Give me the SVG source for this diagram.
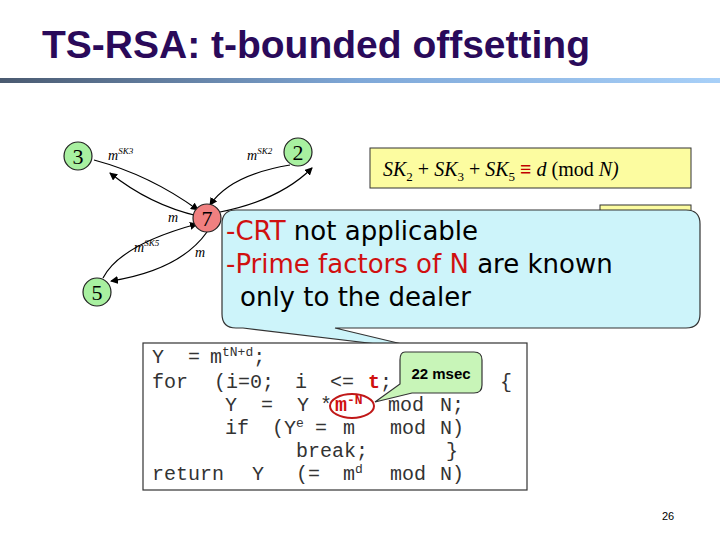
<svg xmlns="http://www.w3.org/2000/svg" width="720" height="540" viewBox="0 0 720 540">
<defs>
<linearGradient id="bar" x1="0" x2="1"><stop offset="0" stop-color="#4a5a70"/><stop offset="0.5" stop-color="#7fa8d8"/><stop offset="1" stop-color="#a8d0f8"/></linearGradient>
<marker id="ah" markerWidth="8" markerHeight="8" refX="7" refY="4" orient="auto" markerUnits="userSpaceOnUse"><path d="M0,0 L8,4 L0,8 z" fill="#000"/></marker>
<style>
.nd{fill:#a8f0a0;stroke:#222;stroke-width:1.2}
.nt{font-family:"Liberation Serif",serif;font-size:22px;text-anchor:middle}
.lb{font-family:"Liberation Serif",serif;font-style:italic;font-size:14px}
.sp{font-size:9px}
.cn{fill:none;stroke:#000;stroke-width:1.2;marker-end:url(#ah)}
.yb{fill:#fcfca0;stroke:#333;stroke-width:1}
.code{font-family:"Liberation Mono",monospace;font-size:20px;fill:#333}
.sup{font-size:13px}
.cb{font-family:"DejaVu Sans",sans-serif;font-size:26px}
.red{fill:#d01010}
</style>
</defs>
<rect width="720" height="540" fill="#fff"/>
<text x="42" y="58" font-family="Liberation Sans,sans-serif" font-weight="bold" font-size="38" fill="#2a0a5a" textLength="548" lengthAdjust="spacingAndGlyphs">TS-RSA: t-bounded offsetting</text>
<rect x="0" y="78" width="720" height="5" fill="url(#bar)"/>
<g id="connectors">
<path class="cn" d="M94,160 Q150,175 198,210"/>
<path class="cn" d="M198,216 Q150,205 110,173"/>
<path class="cn" d="M290,165 Q230,175 210,205"/>
<path class="cn" d="M220,212 Q280,200 312,168"/>
<path class="cn" d="M103,278 Q120,245 197,224"/>
<path class="cn" d="M207,232 Q180,270 111,281"/>
</g>
<g id="n3"><circle class="nd" cx="78" cy="156" r="14"/><text class="nt" x="78" y="164">3</text></g>
<g id="n2"><circle class="nd" cx="298" cy="152" r="14"/><text class="nt" x="298" y="160">2</text></g>
<g id="n7"><circle cx="207" cy="218" r="14" fill="#f08080" stroke="#222" stroke-width="1.2"/><text class="nt" x="207" y="226">7</text></g>
<g id="n5"><circle class="nd" cx="97" cy="292" r="14"/><text class="nt" x="97" y="300">5</text></g>
<g id="labels">
<text class="lb" x="108" y="160">m<tspan class="sp" dy="-6">SK3</tspan></text>
<text class="lb" x="247" y="160">m<tspan class="sp" dy="-6">SK2</tspan></text>
<text class="lb" x="168" y="222">m</text>
<text class="lb" x="134" y="252">m<tspan class="sp" dy="-6">SK5</tspan></text>
<text class="lb" x="195" y="257">m</text>
</g>
<g id="eq1"><rect class="yb" x="370" y="148" width="321" height="40"/>
<text x="383" y="176" font-family="Liberation Serif,serif" font-size="20"><tspan font-style="italic">SK</tspan><tspan font-size="13" dy="5">2</tspan><tspan dy="-5"> + </tspan><tspan font-style="italic">SK</tspan><tspan font-size="13" dy="5">3</tspan><tspan dy="-5"> + </tspan><tspan font-style="italic">SK</tspan><tspan font-size="13" dy="5">5</tspan><tspan dy="-5"> </tspan><tspan fill="#c00000" font-weight="bold">≡</tspan><tspan font-style="italic"> d</tspan><tspan>  (mod </tspan><tspan font-style="italic">N)</tspan></text></g>
<g id="eq2"><rect class="yb" x="600" y="205" width="91" height="43"/><text x="670" y="236" font-family="Liberation Serif,serif" font-style="italic" font-size="20">d</text></g>
<g id="eq3"><rect class="yb" x="600" y="255" width="91" height="43"/></g>
<g id="callout">
<path d="M236,210 H686 Q700,210 700,224 V314 Q700,328 686,328 H335 L427,350 L243,328 H236 Q222,328 222,314 V224 Q222,210 236,210 Z" fill="#cdf4fa" stroke="#333" stroke-width="1.2"/>
<text class="cb" x="226" y="240"><tspan class="red">-CRT</tspan> not applicable</text>
<text class="cb" x="226" y="273"><tspan class="red">-Prime factors of N</tspan> are known</text>
<text class="cb" x="240" y="306">only to the dealer</text>
</g>
<g id="code">
<rect x="143" y="343" width="384" height="147" fill="#fff" stroke="#333" stroke-width="1.2"/>
<text class="code" y="363"><tspan x="152">Y</tspan><tspan x="188">=</tspan><tspan x="210">m</tspan><tspan class="sup" dy="-7">tN+d</tspan><tspan dy="7">;</tspan></text>
<text class="code" y="388"><tspan x="152">for</tspan><tspan x="214">(i=0;</tspan><tspan x="295">i</tspan><tspan x="330">&lt;=</tspan><tspan class="red" font-weight="bold" x="368">t</tspan><tspan x="380">;</tspan><tspan x="500">{</tspan></text>
<text class="code" y="411"><tspan x="225">Y</tspan><tspan x="261">=</tspan><tspan x="297">Y</tspan><tspan x="320">*</tspan><tspan class="red" font-weight="bold" x="335">m</tspan><tspan class="sup red" font-weight="bold" dy="-7">-N</tspan><tspan dy="7" x="388">mod</tspan><tspan x="440">N;</tspan></text>
<text class="code" y="434"><tspan x="225">if</tspan><tspan x="272">(Y</tspan><tspan class="sup" dy="-7">e</tspan><tspan dy="7" x="315">=</tspan><tspan x="343">m</tspan><tspan x="390">mod</tspan><tspan x="440">N)</tspan></text>
<text class="code" y="457"><tspan x="296">break;</tspan><tspan x="446">}</tspan></text>
<text class="code" y="480"><tspan x="152">return</tspan><tspan x="252">Y</tspan><tspan x="296">(=</tspan><tspan x="343">m</tspan><tspan class="sup" dy="-7">d</tspan><tspan dy="7" x="390">mod</tspan><tspan x="440">N)</tspan></text>
<ellipse cx="352" cy="406" rx="22" ry="12" fill="none" stroke="#c01818" stroke-width="2"/>
</g>
<g id="msec">
<path d="M405,352 H474 Q482,352 482,360 V385 Q482,393 474,393 H412 L375,402 L400,384 V360 Q400,352 405,352 Z" fill="#c8f5b8" stroke="#333" stroke-width="1.2"/>
<text x="441" y="379" font-family="Liberation Sans,sans-serif" font-weight="bold" font-size="15" text-anchor="middle">22 msec</text>
</g>
<text x="668" y="520" font-family="Liberation Sans,sans-serif" font-size="11" text-anchor="middle">26</text>
</svg>
